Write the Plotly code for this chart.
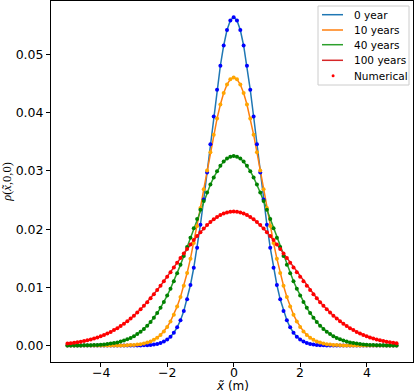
import plotly.graph_objects as go

# x grid (m), -5.0 .. 4.9
x_m = [
    -5.0, -4.9, -4.8, -4.7, -4.6, -4.5, -4.4, -4.3, -4.2, -4.1,
    -4.0, -3.9, -3.8, -3.7, -3.6, -3.5, -3.4, -3.3, -3.2, -3.1,
    -3.0, -2.9, -2.8, -2.7, -2.6, -2.5, -2.4, -2.3, -2.2, -2.1,
    -2.0, -1.9, -1.8, -1.7, -1.6, -1.5, -1.4, -1.3, -1.2, -1.1,
    -1.0, -0.9, -0.8, -0.7, -0.6, -0.5, -0.4, -0.3, -0.2, -0.1,
    0.0, 0.1, 0.2, 0.3, 0.4, 0.5, 0.6, 0.7, 0.8, 0.9,
    1.0, 1.1, 1.2, 1.3, 1.4, 1.5, 1.6, 1.7, 1.8, 1.9,
    2.0, 2.1, 2.2, 2.3, 2.4, 2.5, 2.6, 2.7, 2.8, 2.9,
    3.0, 3.1, 3.2, 3.3, 3.4, 3.5, 3.6, 3.7, 3.8, 3.9,
    4.0, 4.1, 4.2, 4.3, 4.4, 4.5, 4.6, 4.7, 4.8, 4.9,
]

rho_0y = [
    0, 0, 0, 0, 0, 0, 0, 0, 0, 0,
    0, 0, 0, 0, 0, 0, 0, 0, 0, 0,
    0, 0.00001, 0.00002, 0.00004, 0.00007, 0.00011, 0.00018, 0.00028, 0.00045, 0.00069,
    0.00103, 0.00153, 0.00221, 0.00314, 0.00436, 0.00595, 0.00795, 0.01041, 0.01337, 0.01682,
    0.02076, 0.02510, 0.02975, 0.03457, 0.03936, 0.04394, 0.04808, 0.05156, 0.05421, 0.05586,
    0.05642, 0.05586, 0.05421, 0.05156, 0.04808, 0.04394, 0.03936, 0.03457, 0.02975, 0.02510,
    0.02076, 0.01682, 0.01337, 0.01041, 0.00795, 0.00595, 0.00436, 0.00314, 0.00221, 0.00153,
    0.00103, 0.00069, 0.00045, 0.00028, 0.00018, 0.00011, 0.00007, 0.00004, 0.00002, 0.00001,
    0, 0, 0, 0, 0, 0, 0, 0, 0, 0,
    0, 0, 0, 0, 0, 0, 0, 0, 0, 0,
]

rho_10y = [
    0, 0, 0, 0, 0, 0, 0, 0, 0, 0,
    0, 0, 0, 0, 0.00001, 0.00001, 0.00002, 0.00003, 0.00005, 0.00008,
    0.00011, 0.00017, 0.00025, 0.00036, 0.00051, 0.00071, 0.00099, 0.00135, 0.00183, 0.00244,
    0.00320, 0.00415, 0.00531, 0.00671, 0.00836, 0.01028, 0.01247, 0.01493, 0.01764, 0.02056,
    0.02365, 0.02685, 0.03007, 0.03323, 0.03624, 0.03900, 0.04141, 0.04339, 0.04486, 0.04576,
    0.04607, 0.04576, 0.04486, 0.04339, 0.04141, 0.03900, 0.03624, 0.03323, 0.03007, 0.02685,
    0.02365, 0.02056, 0.01764, 0.01493, 0.01247, 0.01028, 0.00836, 0.00671, 0.00531, 0.00415,
    0.00320, 0.00244, 0.00183, 0.00135, 0.00099, 0.00071, 0.00051, 0.00036, 0.00025, 0.00017,
    0.00011, 0.00008, 0.00005, 0.00003, 0.00002, 0.00001, 0.00001, 0, 0, 0,
    0, 0, 0, 0, 0, 0, 0, 0, 0, 0,
]

rho_40y = [
    0.00001, 0.00001, 0.00001, 0.00002, 0.00003, 0.00004, 0.00005, 0.00007, 0.00009, 0.00012,
    0.00016, 0.00020, 0.00026, 0.00034, 0.00043, 0.00055, 0.00069, 0.00086, 0.00107, 0.00132,
    0.00162, 0.00197, 0.00239, 0.00287, 0.00342, 0.00406, 0.00478, 0.00559, 0.00649, 0.00749,
    0.00859, 0.00978, 0.01106, 0.01243, 0.01387, 0.01539, 0.01695, 0.01854, 0.02015, 0.02176,
    0.02334, 0.02486, 0.02631, 0.02766, 0.02889, 0.02997, 0.03088, 0.03161, 0.03214, 0.03246,
    0.03257, 0.03246, 0.03214, 0.03161, 0.03088, 0.02997, 0.02889, 0.02766, 0.02631, 0.02486,
    0.02334, 0.02176, 0.02015, 0.01854, 0.01695, 0.01539, 0.01387, 0.01243, 0.01106, 0.00978,
    0.00859, 0.00749, 0.00649, 0.00559, 0.00478, 0.00406, 0.00342, 0.00287, 0.00239, 0.00197,
    0.00162, 0.00132, 0.00107, 0.00086, 0.00069, 0.00055, 0.00043, 0.00034, 0.00026, 0.00020,
    0.00016, 0.00012, 0.00009, 0.00007, 0.00005, 0.00004, 0.00003, 0.00002, 0.00001, 0.00001,
]

rho_100y = [
    0.00036, 0.00042, 0.00049, 0.00058, 0.00068, 0.00079, 0.00091, 0.00106, 0.00122, 0.00140,
    0.00160, 0.00183, 0.00208, 0.00235, 0.00266, 0.00299, 0.00335, 0.00375, 0.00418, 0.00464,
    0.00514, 0.00567, 0.00623, 0.00683, 0.00746, 0.00813, 0.00882, 0.00954, 0.01028, 0.01104,
    0.01182, 0.01262, 0.01342, 0.01423, 0.01503, 0.01583, 0.01661, 0.01738, 0.01812, 0.01882,
    0.01949, 0.02012, 0.02070, 0.02122, 0.02169, 0.02209, 0.02242, 0.02269, 0.02288, 0.02299,
    0.02303, 0.02299, 0.02288, 0.02269, 0.02242, 0.02209, 0.02169, 0.02122, 0.02070, 0.02012,
    0.01949, 0.01882, 0.01812, 0.01738, 0.01661, 0.01583, 0.01503, 0.01423, 0.01342, 0.01262,
    0.01182, 0.01104, 0.01028, 0.00954, 0.00882, 0.00813, 0.00746, 0.00683, 0.00623, 0.00567,
    0.00514, 0.00464, 0.00418, 0.00375, 0.00335, 0.00299, 0.00266, 0.00235, 0.00208, 0.00183,
    0.00160, 0.00140, 0.00122, 0.00106, 0.00091, 0.00079, 0.00068, 0.00058, 0.00049, 0.00042,
]

labels = ['0 year', '10 years', '40 years', '100 years']
series = [rho_0y, rho_10y, rho_40y, rho_100y]
line_colors = ['#1f77b4', '#ff7f0e', '#2ca02c', '#d62728']
dot_colors = ['#0000ff', '#ffa500', '#008000', '#ff0000']

x_ticks = [-4, -2, 0, 2, 4]
x_tick_text = ['−4', '−2', '0', '2', '4']
y_ticks = [0, 0.01, 0.02, 0.03, 0.04, 0.05]

W, H = 415, 392
L, R, T, B = 51, 2, 1, 30


def px(x):
    # page pixel -> paper x
    return (x - L) / (W - L - R)


def py(y):
    # page pixel -> paper y
    return (H - B - y) / (H - T - B)


fig = go.Figure()

# analytic curves
for name, ys, c in zip(labels, series, line_colors):
    fig.add_trace(go.Scatter(x=x_m, y=ys, mode='lines', name=name,
                             line=dict(color=c, width=1.5)))

# numerical points
for ys, c in zip(series, dot_colors):
    fig.add_trace(go.Scatter(x=x_m, y=ys, mode='markers', name='Numerical',
                             marker=dict(color=c, size=4)))

# legend drawn by hand (matplotlib-like compact box)
shapes = [dict(type='rect', xref='paper', yref='paper',
               x0=px(318), x1=px(409), y0=py(85), y1=py(6),
               line=dict(color='#cccccc', width=1), fillcolor='rgba(255,255,255,0.85)')]
annotations = []
rows = [14.7, 30, 44.7, 60.3, 75.7]
for row, name, c in zip(rows, labels, line_colors):
    shapes.append(dict(type='line', xref='paper', yref='paper',
                       x0=px(322), x1=px(343), y0=py(row), y1=py(row),
                       line=dict(color=c, width=1.5)))
shapes.append(dict(type='circle', xref='paper', yref='paper',
                   x0=px(331.6), x1=px(334.6), y0=py(rows[4] + 1.5), y1=py(rows[4] - 1.5),
                   line=dict(width=0), fillcolor='#ff0000'))
for row, name in zip(rows, labels + ['Numerical']):
    annotations.append(dict(text=name, xref='paper', yref='paper', x=px(352), y=py(row),
                            xanchor='left', yanchor='middle', showarrow=False,
                            font=dict(family='DejaVu Sans', size=10.5, color='black')))

# x tick labels placed closer to the axis, like matplotlib
for v, t in zip(x_ticks, x_tick_text):
    annotations.append(dict(text=t, xref='x', yref='paper', x=v, y=py(372),
                            xanchor='center', yanchor='middle', showarrow=False,
                            font=dict(family='DejaVu Sans', size=12.5, color='black')))

annotations.append(dict(text='<i>x̃</i> (m)', xref='paper', yref='paper', x=0.5, y=py(386),
                        xanchor='center', yanchor='middle', showarrow=False,
                        font=dict(family='DejaVu Sans', size=12, color='black')))

axis_common = dict(showline=True, linecolor='black', linewidth=1, mirror=True,
                   ticks='outside', ticklen=4, tickcolor='black', showgrid=False,
                   zeroline=False, automargin=False,
                   tickfont=dict(family='DejaVu Sans', size=12.5, color='black'))

fig.update_layout(
    width=W, height=H,
    margin=dict(l=L, r=R, t=T, b=B),
    plot_bgcolor='white', paper_bgcolor='white',
    font=dict(family='DejaVu Sans', size=12, color='black'),
    xaxis=dict(range=[-5.495, 5.395], tickvals=x_ticks, showticklabels=False,
               **axis_common),
    yaxis=dict(range=[-0.00282, 0.0592], tickvals=y_ticks, tickformat='.2f',
               title=dict(text='<i>ρ</i>(<i>x̃</i>,0,0)', standoff=8,
                          font=dict(family='Liberation Serif', size=12.5)), **axis_common),
    showlegend=False,
    shapes=shapes,
    annotations=annotations,
)

# page body margin would shift the figure by 8px
fig.write_html("out.html", config={'displayModeBar': False},
               post_script="document.body.style.margin='0';")
